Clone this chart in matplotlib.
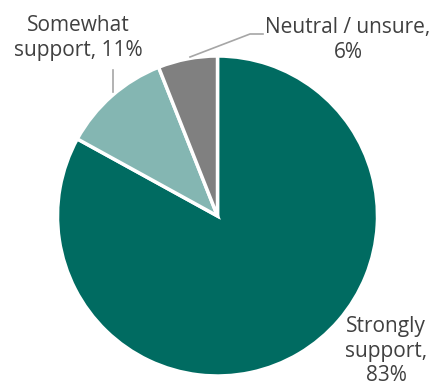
import matplotlib
matplotlib.use("Agg")
import matplotlib.pyplot as plt

labels = ["Strongly\nsupport,\n83%", "Somewhat\nsupport, 11%", "Neutral / unsure,\n6%"]
values = [83, 11, 6]
colors = ["#006B61", "#84B6B2", "#808080"]

W, H = 433, 389
fig = plt.figure(figsize=(W / 100, H / 100), dpi=100)
ax = fig.add_axes([0, 0, 1, 1])

cx, cy, r = 217.5, H - 216, 160
ax.pie(values, colors=colors, startangle=90, counterclock=False,
       center=(cx, cy), radius=r, frame=True,
       wedgeprops=dict(edgecolor="white", linewidth=2.5))
ax.set_xlim(0, W)
ax.set_ylim(0, H)
ax.set_aspect("equal")
ax.axis("off")

font = dict(family="Open Sans", fontsize=15, color="#404040",
            ha="center", va="center", linespacing=1.2)
ax.text(386, H - 351, labels[0], **font)
ax.text(78, H - 38, labels[1], **font)
ax.text(348, H - 40, labels[2], **font)

# leader lines
ax.plot([113, 113], [H - 70, H - 92], color="#A6A6A6", lw=1.2)
ax.plot([190, 250, 263], [H - 57, H - 34, H - 34], color="#A6A6A6", lw=1.2)

fig.savefig("out.png", dpi=100)
